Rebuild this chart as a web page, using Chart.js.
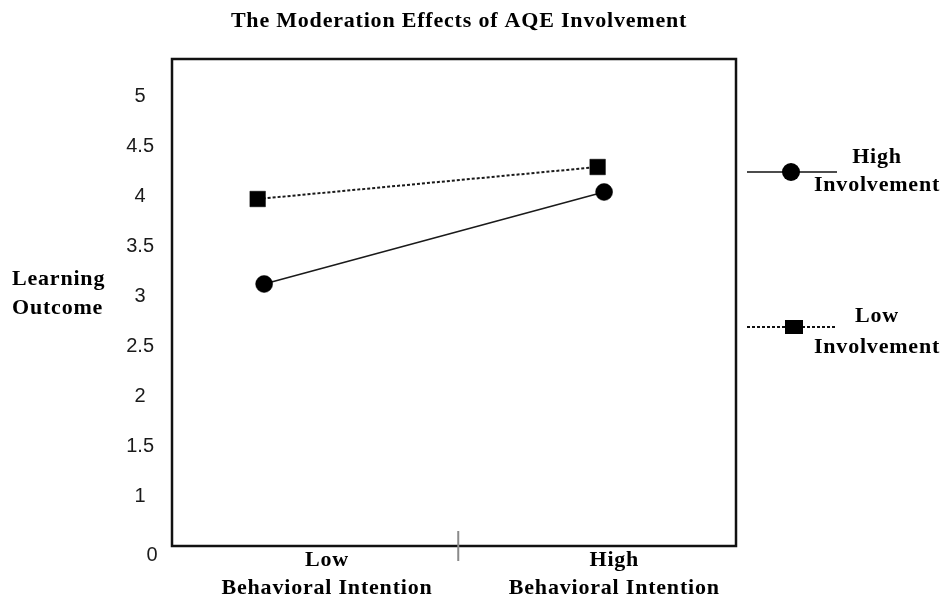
<!DOCTYPE html>
<html>
<head>
<meta charset="utf-8">
<script src="https://cdn.jsdelivr.net/npm/chart.js@4/dist/chart.umd.min.js"></script>
<style>
  body { margin: 0; background: #fff; }
  #wrap { width: 943px; height: 600px; }
</style>
</head>
<body>
<div id="wrap"><canvas id="chartcontainer" width="943" height="600"></canvas></div>
<script>
// donnees
var chartTitle = 'The Moderation Effects of AQE Involvement';
var yTitle = ['Learning', 'Outcome'];
var categories = [['Low', 'Behavioral Intention'], ['High', 'Behavioral Intention']];
var seriesNames = [['High', 'Involvement'], ['Low', 'Involvement']];
var highInvolvement = [3.12, 4.04];
var lowInvolvement = [3.97, 4.29];
var yTickValues = [1, 1.5, 2, 2.5, 3, 3.5, 4, 4.5, 5];
var yTickLabels = ['1', '1.5', '2', '2.5', '3', '3.5', '4', '4.5', '5'];
var originLabel = '0';

var serif = '"Liberation Serif", "DejaVu Serif", serif';
var sans = '"Liberation Sans", Arial, sans-serif';
var spacing = '0.8px';

function toPoints(values) {
    var pts = [];
    for (var i = 0; i < values.length; i++) {
        pts.push({x: i + 1, y: values[i]});
    }
    return pts;
}

var decorPlugin = {
    id: 'decor',
    beforeDraw: function(chart) {
        chart.ctx.letterSpacing = spacing; // x labels are spaced like the original
    },
    beforeDatasetsDraw: function(chart) {
        var ctx = chart.ctx, a = chart.chartArea;
        ctx.save();
        ctx.strokeStyle = '#111';
        ctx.lineWidth = 2.5;
        ctx.strokeRect(a.left, a.top, a.right - a.left, a.bottom - a.top);
        // divider between the two categories
        var xd = chart.scales.x.getPixelForValue(1.571);
        ctx.strokeStyle = '#8a8a8a';
        ctx.lineWidth = 2;
        ctx.beginPath();
        ctx.moveTo(xd, a.bottom - 15);
        ctx.lineTo(xd, a.bottom + 15);
        ctx.stroke();
        ctx.restore();
        ctx.letterSpacing = '0px';
    },
    afterDraw: function(chart) {
        var ctx = chart.ctx, a = chart.chartArea;
        ctx.save();
        ctx.fillStyle = '#000';
        ctx.letterSpacing = spacing;
        ctx.font = 'bold 22px ' + serif;
        ctx.textBaseline = 'middle';

        ctx.textAlign = 'center';
        ctx.fillText(chartTitle, 459, 21);

        ctx.textAlign = 'left';
        ctx.fillText(yTitle[0], 12, 279);
        ctx.fillText(yTitle[1], 12, 308);

        // legend
        var lx = a.right + 11;
        var entries = [
            {y: 172, t1: -15, t2: 13, dash: [], w: 1.5, shape: 'circle', mx: 791},
            {y: 327, t1: -11, t2: 20, dash: [3, 2], w: 2, shape: 'rect', mx: 794}
        ];
        for (var i = 0; i < entries.length; i++) {
            var e = entries[i];
            ctx.textAlign = 'center';
            ctx.fillText(seriesNames[i][0], 877, e.y + e.t1);
            ctx.fillText(seriesNames[i][1], 877, e.y + e.t2);
            ctx.save();
            ctx.strokeStyle = '#111';
            ctx.lineWidth = e.w;
            ctx.setLineDash(e.dash);
            ctx.beginPath();
            ctx.moveTo(lx, e.y);
            ctx.lineTo(lx + 90, e.y);
            ctx.stroke();
            ctx.restore();
            ctx.beginPath();
            if (e.shape === 'circle') {
                ctx.arc(e.mx, e.y, 9, 0, Math.PI * 2);
            } else {
                ctx.rect(e.mx - 9, e.y - 7, 18, 14);
            }
            ctx.fill();
        }

        ctx.letterSpacing = '0px';
        ctx.font = '20px ' + sans;
        ctx.fillStyle = '#1a1a1a';
        ctx.textAlign = 'center';
        ctx.fillText(originLabel, 152, a.bottom + 9);
        ctx.restore();
    }
};

var ctx = document.getElementById('chartcontainer').getContext('2d');
var chart = new Chart(ctx, {
    type: 'line',
    data: {
        datasets: [{
            label: seriesNames[0].join(' '),
            data: toPoints(highInvolvement),
            xAxisID: 'x',
            borderColor: '#1a1a1a',
            borderWidth: 1.5,
            pointStyle: 'circle',
            pointRadius: 8.5,
            pointBackgroundColor: '#000',
            pointBorderColor: '#000',
            pointBorderWidth: 0.5,
            tension: 0
        }, {
            label: seriesNames[1].join(' '),
            data: toPoints(lowInvolvement),
            xAxisID: 'x2',
            borderColor: '#1a1a1a',
            borderWidth: 2,
            borderDash: [3, 2],
            pointStyle: 'rect',
            pointRadius: 11,
            pointBackgroundColor: '#000',
            pointBorderColor: '#000',
            pointBorderWidth: 0.5,
            tension: 0
        }]
    },
    options: {
        responsive: false,
        animation: false,
        layout: {padding: {top: 59, right: 207, bottom: 0, left: 0}},
        plugins: {
            legend: {display: false},
            title: {display: false},
            tooltip: {enabled: false}
        },
        scales: {
            x: {
                type: 'linear',
                min: 0.729,
                max: 2.388,
                afterBuildTicks: function(scale) {
                    scale.ticks = [{value: 1.185}, {value: 2.03}];
                },
                afterFit: function(scale) { scale.height = 54; },
                grid: {display: false, drawTicks: false},
                border: {display: false},
                ticks: {
                    autoSkip: false,
                    maxRotation: 0,
                    padding: 1,
                    color: '#000',
                    font: {family: serif, size: 22, weight: 'bold', lineHeight: 1.25},
                    callback: function(v, i) { return categories[i]; }
                }
            },
            x2: {
                type: 'linear',
                display: false,
                min: 0.748,
                max: 2.407
            },
            y: {
                min: 0.5,
                max: 5.37,
                afterBuildTicks: function(scale) {
                    scale.ticks = yTickValues.map(function(v) { return {value: v}; });
                },
                afterFit: function(scale) { scale.width = 172; },
                grid: {display: false, drawTicks: false},
                border: {display: false},
                ticks: {
                    z: 1,
                    padding: 18,
                    crossAlign: 'center',
                    color: '#1a1a1a',
                    font: {family: sans, size: 20},
                    callback: function(v, i) { return yTickLabels[i]; }
                }
            }
        }
    },
    plugins: [decorPlugin]
});
</script>
</body>
</html>
